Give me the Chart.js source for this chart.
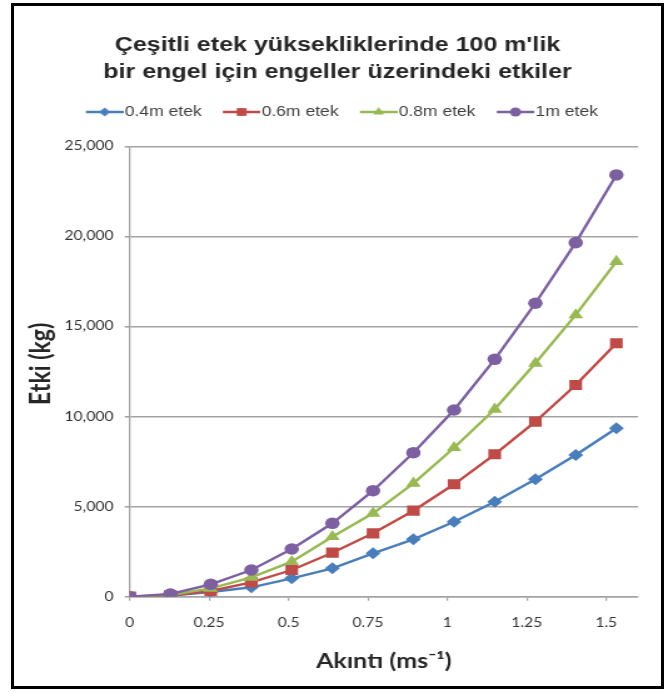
<!DOCTYPE html>
<html><head><meta charset="utf-8">
<script src="https://cdn.jsdelivr.net/npm/chart.js@4/dist/chart.umd.min.js"></script>
<style>
html,body{margin:0;padding:0;background:#fff;width:668px;height:693px;overflow:hidden;}
#wrap{position:absolute;left:0;top:0;width:534px;height:693px;transform:scaleX(1.2509);transform-origin:0 0;}
#frame{position:absolute;left:11px;top:3px;width:647px;height:680px;border:3px solid #000;pointer-events:none;}
</style></head><body>
<div id="wrap"><canvas id="c" width="534" height="693"></canvas></div>
<div id="frame"></div>
<script>
const titleLines = ["Çeşitli etek yüksekliklerinde 100 m'lik", "bir engel için engeller üzerindeki etkiler"];
const xAxisTitle = "Akıntı (ms⁻¹)";
const yAxisTitle = "Etki (kg)";
const seriesNames = ["0.4m etek", "0.6m etek", "0.8m etek", "1m etek"];
const velocity = [0, 0.128, 0.255, 0.383, 0.51, 0.638, 0.766, 0.893, 1.021, 1.149, 1.277, 1.404, 1.532];
const force04 = [0, 60, 260, 522, 1021, 1577, 2409, 3186, 4163, 5274, 6517, 7866, 9348];
const force06 = [0, 70, 316, 800, 1482, 2443, 3519, 4774, 6240, 7905, 9715, 11752, 14067];
const force08 = [0, 94, 466, 1077, 1943, 3331, 4630, 6295, 8271, 10403, 12957, 15638, 18597];
const force10 = [0, 150, 688, 1482, 2648, 4075, 5884, 7994, 10364, 13178, 16287, 19652, 23410];
const xTicks = [0, 0.25, 0.5, 0.75, 1, 1.25, 1.5];
const yTicks = [0, 5000, 10000, 15000, 20000, 25000];

const seriesValues = [force04, force06, force08, force10];
const colors = ['#4a7ebb', '#be4b48', '#98b954', '#7d60a0'];
const styles = ['rectRot', 'rect', 'triangle', 'circle'];
const radii = [6, 7.2, 6.8, 5.8];
const legendRadii = [4.5, 5.5, 5, 4.5];

function legendIcon(i) {
  const cv = document.createElement('canvas');
  cv.width = 43; cv.height = 14;
  const g = cv.getContext('2d');
  g.strokeStyle = colors[i]; g.lineWidth = 2.5;
  g.beginPath(); g.moveTo(13, 7); g.lineTo(43, 7); g.stroke();
  g.fillStyle = colors[i];
  Chart.helpers.drawPoint(g, {pointStyle: styles[i], radius: legendRadii[i], borderWidth: 0, rotation: 0}, 28, 7);
  return cv;
}
const icons = seriesNames.map((_, i) => legendIcon(i));

const datasets = seriesNames.map((name, i) => ({
  label: name,
  data: velocity.map((v, k) => ({x: v, y: seriesValues[i][k]})),
  borderColor: colors[i],
  backgroundColor: colors[i],
  pointBackgroundColor: colors[i],
  pointBorderColor: colors[i],
  pointBorderWidth: 0,
  borderWidth: 2.4,
  pointStyle: styles[i],
  pointRadius: radii[i],
  tension: 0,
  order: 4 - i,
  xAxisID: 'x', yAxisID: 'y'
}));

const yTitlePlugin = {
  id: 'yTitle',
  afterDraw(chart) {
    const c = chart.ctx, a = chart.chartArea;
    c.save();
    c.fillStyle = '#262626';
    c.font = 'bold 23px Lato';
    c.textAlign = 'center';
    c.textBaseline = 'middle';
    c.translate(32.8, a.top + (a.bottom - a.top) * 0.483);
    c.rotate(-Math.PI / 2);
    c.fillText(yAxisTitle, 0, 0);
    c.restore();
  }
};

const grid = '#a3a3a3';
new Chart(document.getElementById('c'), {
  type: 'line',
  data: {datasets},
  plugins: [yTitlePlugin],
  options: {
    responsive: false, animation: false, devicePixelRatio: 1, locale: 'en-US',
    layout: {padding: {top: 0, left: 29.6, right: 24, bottom: 0}},
    plugins: {
      tooltip: {enabled: false},
      title: {display: true, text: titleLines, color: '#262626',
        font: {family: 'Liberation Sans', size: 20, weight: 'bold', lineHeight: 1.35},
        padding: {top: 32, bottom: 9}},
      legend: {display: true, position: 'top',
        labels: {usePointStyle: true, pointStyleWidth: 31, padding: 10, color: '#404040',
          font: {family: 'Liberation Sans', size: 14},
          generateLabels: (chart) => chart.data.datasets.map((ds, i) => ({
            text: ds.label, pointStyle: icons[i], fillStyle: colors[i], strokeStyle: colors[i],
            lineWidth: 0, hidden: false, datasetIndex: i, fontColor: '#404040'}))}}
    },
    scales: {
      x: {type: 'linear', position: 'bottom', min: 0, max: 1.6,
        afterBuildTicks: (s) => { s.ticks = xTicks.map(v => ({value: v})); },
        ticks: {color: '#333333', font: {family: 'Lato', size: 12.5}, padding: 15, maxRotation: 0,
          callback: (v) => String(v)},
        grid: {display: true, drawOnChartArea: false, drawTicks: true, tickLength: 4, color: grid, lineWidth: 1.2},
        border: {display: true, color: grid, width: 1.6},
        title: {display: true, text: xAxisTitle, color: '#262626', font: {family: 'Lato', size: 20, weight: 'bold', lineHeight: 1.2}, padding: {top: 0, bottom: 19}},
        afterFit: (s) => { s.height = 96.3; }
      },
      y: {type: 'linear', position: 'left', min: 0, max: 25000,
        afterBuildTicks: (s) => { s.ticks = yTicks.map(v => ({value: v})); },
        ticks: {color: '#333333', font: {family: 'Lato', size: 12.5}, padding: 9,
          callback: (v) => v.toLocaleString('en-US')},
        grid: {display: true, drawOnChartArea: true, drawTicks: true, tickLength: 4, color: grid, lineWidth: 1.6},
        border: {display: true, color: grid, width: 1.3},
        title: {display: false, text: yAxisTitle},
        afterFit: (s) => { s.width = 74.1; }
      },
      spacer: {type: 'linear', position: 'top', display: true,
        grid: {display: false}, border: {display: false}, ticks: {display: false},
        afterFit: (s) => { s.height = 17.3; }
      }
    }
  }
});
</script>
</body></html>
